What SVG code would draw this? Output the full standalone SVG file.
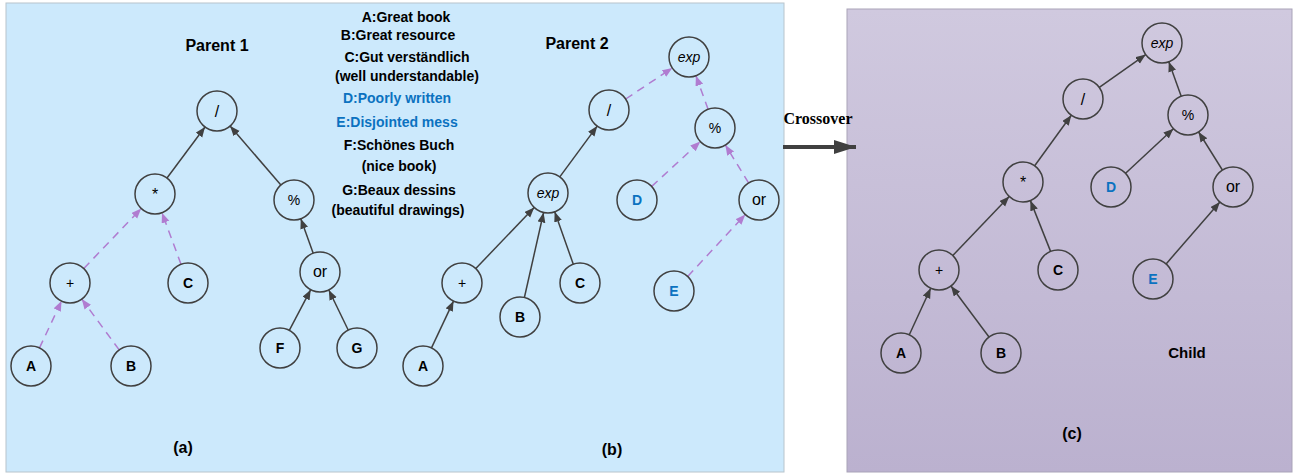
<svg xmlns="http://www.w3.org/2000/svg" width="1299" height="474" viewBox="0 0 1299 474">
<defs>
<linearGradient id="gc" x1="0" y1="0" x2="0" y2="1">
<stop offset="0" stop-color="#d0c9df"/>
<stop offset="1" stop-color="#bbb1cf"/>
</linearGradient>
<marker id="ag" markerUnits="userSpaceOnUse" markerWidth="11" markerHeight="9" refX="10" refY="4" orient="auto"><path d="M0,0 L10,4 L0,8 z" fill="#404040"/></marker>
<marker id="ap" markerUnits="userSpaceOnUse" markerWidth="11" markerHeight="9" refX="10" refY="4" orient="auto"><path d="M0,0 L10,4 L0,8 z" fill="#b07cd0"/></marker>
<marker id="ab" markerUnits="userSpaceOnUse" markerWidth="24" markerHeight="16" refX="22" refY="7" orient="auto"><path d="M0,0 L22,7 L0,14 z" fill="#404040"/></marker>
<style>
.n{fill:none;stroke:#404040;stroke-width:1.5}
.t{font-family:"Liberation Sans",Arial,sans-serif;font-size:14px;text-anchor:middle;fill:#000}
.o{font-size:16px}
.b{font-weight:bold}
.i{font-style:italic}
.blue{fill:#0b72c0}
.s{stroke:#404040;stroke-width:1.5;fill:none;marker-end:url(#ag)}
.d{stroke:#b07cd0;stroke-width:1.5;fill:none;stroke-dasharray:8,6;marker-end:url(#ap)}
.h{font-family:"Liberation Sans",Arial,sans-serif;font-weight:bold;text-anchor:middle;fill:#000}
</style>
</defs>
<rect x="6" y="3" width="778" height="469" fill="#cce9fc" stroke="#b8c4cc" stroke-width="1"/>
<rect x="847" y="9" width="445" height="463" fill="url(#gc)" stroke="#a9a3b8" stroke-width="1"/>

<g id="legend">
<text class="t b" x="406" y="22">A:Great book</text>
<text class="t b" x="398" y="40">B:Great resource</text>
<text class="t b" x="407" y="62">C:Gut verständlich</text>
<text class="t b" x="407" y="81">(well understandable)</text>
<text class="t b blue" x="397" y="103">D:Poorly written</text>
<text class="t b blue" x="397" y="127">E:Disjointed mess</text>
<text class="t b" x="399" y="150">F:Schönes Buch</text>
<text class="t b" x="399" y="171">(nice book)</text>
<text class="t b" x="399" y="195">G:Beaux dessins</text>
<text class="t b" x="398" y="215">(beautiful drawings)</text>
</g>
<g id="titles">
<text class="h" font-size="16" x="217" y="51">Parent 1</text>
<text class="h" font-size="16" x="577" y="49">Parent 2</text>
<text class="h" font-size="15" x="1187" y="358">Child</text>
<text class="h" font-size="16" x="183" y="453">(a)</text>
<text class="h" font-size="16" x="612" y="455">(b)</text>
<text class="h" font-size="16" x="1072" y="439">(c)</text>
</g>

<g id="connectors">
<line class="s" x1="167" y1="178" x2="205" y2="127"/>
<line class="s" x1="280.9" y1="184.9" x2="230.1" y2="126.1"/>
<line class="s" x1="313.2" y1="253.2" x2="300.8" y2="218.8"/>
<line class="s" x1="289.3" y1="330.3" x2="310.7" y2="289.7"/>
<line class="s" x1="348.2" y1="330" x2="328.8" y2="290"/>
<line class="d" x1="83.8" y1="268.5" x2="141.2" y2="208.5"/>
<line class="d" x1="181" y1="264.2" x2="162" y2="212.8"/>
<line class="d" x1="39.5" y1="347.9" x2="61.5" y2="301.1"/>
<line class="d" x1="119.2" y1="349.9" x2="81.8" y2="299.1"/>

<line class="d" x1="625.7" y1="99" x2="672.3" y2="68"/>
<line class="d" x1="708.1" y1="109.2" x2="695.9" y2="75.8"/>
<line class="d" x1="651.7" y1="186.4" x2="700.3" y2="141.6"/>
<line class="d" x1="748.6" y1="182.9" x2="725.4" y2="145.1"/>
<line class="d" x1="687.7" y1="276.4" x2="745.3" y2="214.6"/>
<line class="s" x1="559.8" y1="176.9" x2="597.2" y2="126.1"/>
<line class="s" x1="475.8" y1="268.5" x2="534.2" y2="207.5"/>
<line class="s" x1="524.4" y1="297.5" x2="543.6" y2="212.5"/>
<line class="s" x1="573.3" y1="264.2" x2="554.7" y2="211.8"/>
<line class="s" x1="431.5" y1="347.9" x2="453.5" y2="301.1"/>

<line class="s" x1="1099.3" y1="87.4" x2="1145.7" y2="54.6"/>
<line class="s" x1="1181.2" y1="96.2" x2="1168.8" y2="61.8"/>
<line class="s" x1="1034.7" y1="165.8" x2="1071.3" y2="115.2"/>
<line class="s" x1="1125.6" y1="173.3" x2="1173.4" y2="128.7"/>
<line class="s" x1="1222.4" y1="170" x2="1198.6" y2="132"/>
<line class="s" x1="952.8" y1="255.5" x2="1009.2" y2="196.5"/>
<line class="s" x1="1050.6" y1="251.4" x2="1030.4" y2="200.6"/>
<line class="s" x1="1166.1" y1="263.9" x2="1219.9" y2="202.1"/>
<line class="s" x1="909.3" y1="334.8" x2="930.7" y2="288.2"/>
<line class="s" x1="989" y1="337" x2="951" y2="286"/>

<line x1="783" y1="147" x2="856" y2="147" stroke="#404040" stroke-width="4" marker-end="url(#ab)"/>
<text x="818" y="124" font-family="Liberation Serif,'Times New Roman',serif" font-weight="bold" font-size="16" text-anchor="middle" fill="#000">Crossover</text>
</g>

<g id="p1-div"><circle class="n" cx="217" cy="111" r="20"/><text class="t o" x="217" y="117">/</text></g>
<g id="p1-mul"><circle class="n" cx="155" cy="194" r="20"/><text class="t o" x="155" y="200">*</text></g>
<g id="p1-mod"><circle class="n" cx="294" cy="200" r="20"/><text class="t" x="294" y="205">%</text></g>
<g id="p1-plus"><circle class="n" cx="70" cy="283" r="20"/><text class="t" x="70" y="288">+</text></g>
<g id="p1-C"><circle class="n" cx="188" cy="283" r="20"/><text class="t b" x="188" y="288">C</text></g>
<g id="p1-or"><circle class="n" cx="320" cy="272" r="20"/><text class="t o" x="320" y="277">or</text></g>
<g id="p1-F"><circle class="n" cx="280" cy="348" r="20"/><text class="t b" x="280" y="353">F</text></g>
<g id="p1-G"><circle class="n" cx="357" cy="348" r="20"/><text class="t b" x="357" y="353">G</text></g>
<g id="p1-A"><circle class="n" cx="31" cy="366" r="20"/><text class="t b" x="31" y="371">A</text></g>
<g id="p1-B"><circle class="n" cx="131" cy="366" r="20"/><text class="t b" x="131" y="371">B</text></g>

<g id="p2-exp"><circle class="n" cx="689" cy="57" r="20"/><text class="t i" x="689" y="62">exp</text></g>
<g id="p2-div"><circle class="n" cx="609" cy="110" r="20"/><text class="t o" x="609" y="116">/</text></g>
<g id="p2-mod"><circle class="n" cx="715" cy="128" r="20"/><text class="t" x="715" y="133">%</text></g>
<g id="p2-exp2"><circle class="n" cx="548" cy="193" r="20"/><text class="t i" x="548" y="198">exp</text></g>
<g id="p2-D"><circle class="n" cx="637" cy="200" r="20"/><text class="t b blue" x="637" y="205">D</text></g>
<g id="p2-or"><circle class="n" cx="759" cy="200" r="20"/><text class="t o" x="759" y="205">or</text></g>
<g id="p2-plus"><circle class="n" cx="462" cy="283" r="20"/><text class="t" x="462" y="288">+</text></g>
<g id="p2-B"><circle class="n" cx="520" cy="317" r="20"/><text class="t b" x="520" y="322">B</text></g>
<g id="p2-C"><circle class="n" cx="580" cy="283" r="20"/><text class="t b" x="580" y="288">C</text></g>
<g id="p2-A"><circle class="n" cx="423" cy="366" r="20"/><text class="t b" x="423" y="371">A</text></g>
<g id="p2-E"><circle class="n" cx="674" cy="291" r="20"/><text class="t b blue" x="674" y="296">E</text></g>

<g id="c-exp"><circle class="n" cx="1162" cy="43" r="20"/><text class="t i" x="1162" y="48">exp</text></g>
<g id="c-div"><circle class="n" cx="1083" cy="99" r="20"/><text class="t o" x="1083" y="105">/</text></g>
<g id="c-mod"><circle class="n" cx="1188" cy="115" r="20"/><text class="t" x="1188" y="120">%</text></g>
<g id="c-mul"><circle class="n" cx="1023" cy="182" r="20"/><text class="t o" x="1023" y="188">*</text></g>
<g id="c-D"><circle class="n" cx="1111" cy="187" r="20"/><text class="t b blue" x="1111" y="192">D</text></g>
<g id="c-or"><circle class="n" cx="1233" cy="187" r="20"/><text class="t o" x="1233" y="192">or</text></g>
<g id="c-plus"><circle class="n" cx="939" cy="270" r="20"/><text class="t" x="939" y="275">+</text></g>
<g id="c-C"><circle class="n" cx="1058" cy="270" r="20"/><text class="t b" x="1058" y="275">C</text></g>
<g id="c-E"><circle class="n" cx="1153" cy="279" r="20"/><text class="t b blue" x="1153" y="284">E</text></g>
<g id="c-A"><circle class="n" cx="901" cy="353" r="20"/><text class="t b" x="901" y="358">A</text></g>
<g id="c-B"><circle class="n" cx="1001" cy="353" r="20"/><text class="t b" x="1001" y="358">B</text></g>
</svg>
